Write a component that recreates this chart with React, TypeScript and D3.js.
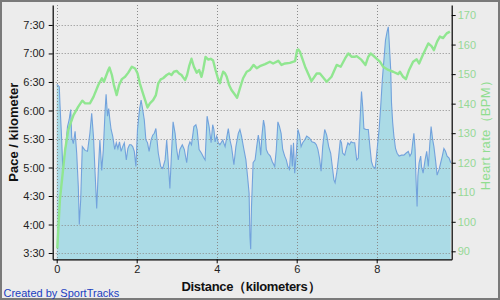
import React, { useEffect, useRef } from "react";
import * as d3 from "d3";

// Distance (km) and pace (seconds per km)
const paceKm = [
  0.0, 0.015, 0.065, 0.08, 0.125, 0.15, 0.18, 0.23, 0.27, 0.31, 0.35, 0.375, 0.415, 0.46, 0.5, 0.54, 0.565, 0.6, 0.64, 0.71,
  0.77, 0.83, 0.875, 0.92, 0.96, 1.0, 1.04, 1.08, 1.125, 1.165, 1.21, 1.235, 1.27, 1.3, 1.33, 1.36, 1.4, 1.45, 1.49, 1.53,
  1.57, 1.61, 1.65, 1.69, 1.74, 1.78, 1.82, 1.86, 1.9, 1.94, 1.98, 2.02, 2.07, 2.11, 2.15, 2.19, 2.23, 2.27, 2.31, 2.36,
  2.4, 2.44, 2.48, 2.54, 2.6, 2.65, 2.71, 2.75, 2.79, 2.83, 2.87, 2.91, 2.96, 3.0, 3.04, 3.08, 3.14, 3.19, 3.25, 3.29,
  3.33, 3.37, 3.43, 3.48, 3.51, 3.56, 3.62, 3.68, 3.71, 3.76, 3.81, 3.86, 3.9, 3.93, 3.96, 4.0, 4.04, 4.08, 4.15, 4.21,
  4.29, 4.33, 4.37, 4.43, 4.48, 4.54, 4.58, 4.62, 4.68, 4.73, 4.77, 4.81, 4.83, 4.85, 4.87, 4.91, 4.96, 5.0, 5.04, 5.07,
  5.1, 5.13, 5.17, 5.2, 5.24, 5.28, 5.34, 5.39, 5.45, 5.49, 5.53, 5.57, 5.61, 5.65, 5.7, 5.74, 5.78, 5.82, 5.86, 5.89,
  5.92, 5.95, 5.99, 6.03, 6.07, 6.11, 6.15, 6.2, 6.25, 6.32, 6.38, 6.45, 6.49, 6.53, 6.57, 6.61, 6.65, 6.7, 6.75, 6.8,
  6.85, 6.89, 6.93, 6.96, 7.0, 7.05, 7.09, 7.12, 7.15, 7.2, 7.24, 7.28, 7.32, 7.36, 7.4, 7.45, 7.5, 7.54, 7.58, 7.62,
  7.65, 7.68, 7.73, 7.79, 7.83, 7.87, 7.91, 7.96, 7.98, 8.01, 8.06, 8.1, 8.14, 8.18, 8.22, 8.26, 8.29, 8.31, 8.35, 8.37,
  8.4, 8.43, 8.47, 8.51, 8.56, 8.62, 8.68, 8.73, 8.79, 8.83, 8.87, 8.9, 8.93, 8.96, 8.98, 9.01, 9.03, 9.06, 9.1, 9.12,
  9.16, 9.21, 9.25, 9.29, 9.33, 9.36, 9.4, 9.43, 9.47, 9.51, 9.56, 9.6, 9.64, 9.68, 9.72, 9.76, 9.81, 9.85,
];
const paceSec = [
  387, 387, 385, 368, 329, 301, 308, 325, 343, 350, 361, 332, 325, 338, 315, 280, 240, 266, 322, 318,
  317, 336, 357, 332, 294, 257, 297, 329, 297, 318, 360, 377, 354, 362, 350, 340, 333, 319, 326, 320,
  327, 317, 322, 326, 308, 320, 324, 324, 322, 317, 301, 340, 361, 371, 361, 350, 329, 326, 317, 329,
  334, 336, 341, 315, 301, 299, 308, 329, 305, 278, 315, 348, 336, 319, 308, 319, 324, 319, 305, 322,
  327, 324, 343, 345, 340, 319, 315, 310, 308, 354, 343, 326, 345, 340, 327, 333, 326, 324, 329, 322,
  341, 329, 322, 303, 322, 336, 340, 333, 319, 308, 291, 273, 228, 214, 259, 305, 308, 322, 334, 326,
  313, 333, 350, 343, 319, 315, 312, 306, 301, 319, 348, 343, 336, 319, 312, 308, 301, 298, 324, 301,
  326, 294, 315, 340, 334, 322, 326, 329, 333, 331, 327, 326, 324, 319, 310, 296, 322, 340, 334, 322,
  315, 301, 287, 284, 294, 312, 329, 326, 315, 313, 320, 326, 324, 327, 326, 326, 308, 310, 347, 380,
  364, 341, 340, 340, 322, 306, 301, 299, 306, 319, 340, 364, 392, 413, 434, 443, 448, 434, 403, 368,
  347, 333, 320, 315, 312, 313, 313, 315, 317, 312, 315, 326, 336, 319, 291, 259, 291, 305, 312, 301,
  294, 308, 317, 301, 326, 343, 329, 322, 308, 292, 298, 305, 312, 320, 317, 312, 310, 305,
];

// Distance (km) and heart rate (BPM)
const hrKm = [
  0.015, 0.08, 0.15, 0.21, 0.29, 0.42, 0.54, 0.64, 0.71, 0.83, 0.92, 1.04, 1.13, 1.18, 1.29, 1.32, 1.38, 1.43, 1.5, 1.56,
  1.63, 1.71, 1.79, 1.88, 1.96, 2.02, 2.08, 2.17, 2.27, 2.33, 2.41, 2.48, 2.54, 2.6, 2.66, 2.75, 2.81, 2.87, 2.93, 3.0,
  3.06, 3.12, 3.16, 3.21, 3.26, 3.31, 3.37, 3.43, 3.5, 3.56, 3.62, 3.66, 3.72, 3.79, 3.85, 3.91, 3.97, 4.02, 4.06, 4.08,
  4.11, 4.16, 4.21, 4.25, 4.31, 4.37, 4.43, 4.51, 4.58, 4.66, 4.75, 4.83, 4.92, 5.0, 5.08, 5.21, 5.33, 5.41, 5.54, 5.62,
  5.71, 5.83, 5.96, 6.01, 6.04, 6.08, 6.21, 6.37, 6.5, 6.58, 6.75, 6.87, 7.0, 7.1, 7.21, 7.29, 7.37, 7.46, 7.5, 7.62,
  7.72, 7.79, 7.85, 7.96, 8.08, 8.16, 8.29, 8.41, 8.54, 8.58, 8.66, 8.73, 8.81, 8.91, 9.0, 9.06, 9.15, 9.29, 9.37, 9.43,
  9.51, 9.58, 9.66, 9.75, 9.83,
];
const hrBpm = [
  91.0, 107.4, 116.5, 124.3, 131.1, 136.1, 139.0, 141.0, 140.1, 140.1, 142.3, 146.3, 148.6, 147.4, 151.4, 152.2, 149.7, 146.3, 142.9, 146.3,
  148.3, 149.1, 150.5, 152.5, 151.9, 150.3, 146.8, 142.9, 138.7, 140.1, 141.2, 142.9, 146.9, 148.2, 148.6, 149.7, 150.2, 149.7, 150.8, 151.1,
  150.2, 149.7, 148.9, 148.0, 149.7, 152.6, 155.2, 152.5, 150.5, 151.4, 149.1, 151.4, 155.8, 154.9, 155.2, 154.6, 151.4, 149.1, 147.4, 146.9,
  148.6, 150.8, 150.2, 149.1, 146.3, 144.6, 143.5, 142.0, 145.2, 148.6, 150.8, 151.4, 153.1, 152.0, 152.7, 153.4, 154.2, 153.6, 154.5, 153.1,
  153.6, 153.8, 154.4, 158.1, 158.3, 157.6, 152.5, 147.6, 150.2, 150.2, 147.4, 149.1, 153.1, 152.5, 155.3, 157.0, 155.9, 155.9, 156.1, 154.8,
  153.1, 155.9, 157.0, 155.7, 154.2, 152.5, 151.4, 150.8, 150.0, 150.8, 149.1, 148.3, 151.4, 154.2, 155.0, 153.6, 156.4, 160.4, 159.5, 158.1,
  161.0, 162.7, 162.2, 163.8, 164.4,
];

const paceTicks = [210, 240, 270, 300, 330, 360, 390, 420, 450];
const hrTicks = [90, 100, 110, 120, 130, 140, 150, 160, 170];
const kmTicks = [0, 2, 4, 6, 8];

const W = 500;
const H = 300;
const L = 52.7;
const R = 451.7;
const T = 5;
const B = 259.3;

const fmtPace = (s: number) => `${Math.floor(s / 60)}:${String(s % 60).padStart(2, "0")}`;

export default function App() {
  const ref = useRef<SVGSVGElement | null>(null);

  useEffect(() => {
    const svg = d3.select(ref.current);
    svg.selectAll("*").remove();

    const x = d3.scaleLinear().domain([-0.1, 9.875]).range([L, R]);
    const yP = d3.scaleLinear().domain([203.4, 471]).range([B, T]);
    const yH = d3.scaleLinear().domain([87.3, 173.4]).range([B, T]);

    const paceData = paceKm.map((k, i) => ({ k, v: paceSec[i] }));
    const hrData = hrKm.map((k, i) => ({ k, v: hrBpm[i] }));

    svg.append("rect").attr("x", 0).attr("y", 0).attr("width", W).attr("height", H).attr("fill", "#ececec");
    svg.append("rect").attr("x", 1).attr("y", 1).attr("width", W - 2).attr("height", H - 2)
      .attr("fill", "none").attr("stroke", "#7a7a7a").attr("stroke-width", 2);

    const area = d3.area<{ k: number; v: number }>()
      .x((d) => x(d.k)).y0(B).y1((d) => yP(d.v));
    svg.append("path").datum(paceData).attr("d", area).attr("fill", "#abdbe6");

    const grid = svg.append("g").attr("stroke", "#8a8a8a").attr("stroke-width", 1).attr("stroke-dasharray", "1,2");
    paceTicks.forEach((t) => {
      grid.append("line").attr("x1", L).attr("x2", R).attr("y1", Math.round(yP(t)) + 0.5).attr("y2", Math.round(yP(t)) + 0.5);
    });
    kmTicks.forEach((t) => {
      grid.append("line").attr("y1", T).attr("y2", B).attr("x1", Math.round(x(t)) + 0.5).attr("x2", Math.round(x(t)) + 0.5);
    });

    const paceLine = d3.line<{ k: number; v: number }>().x((d) => x(d.k)).y((d) => yP(d.v));
    svg.append("path").datum(paceData).attr("d", paceLine).attr("fill", "none")
      .attr("stroke", "#72a2dc").attr("stroke-width", 1.1);

    const hrLine = d3.line<{ k: number; v: number }>().x((d) => x(d.k)).y((d) => yH(d.v));
    svg.append("path").datum(hrData).attr("d", hrLine).attr("fill", "none")
      .attr("stroke", "#90e690").attr("stroke-width", 2.4).attr("stroke-linejoin", "round");

    const font = "'Liberation Sans', Arial, sans-serif";

    const gl = svg.append("g").attr("transform", `translate(${L},0)`)
      .call(d3.axisLeft(yP).tickValues(paceTicks).tickFormat((d) => fmtPace(d as number)).tickSize(4).tickPadding(4).tickSizeOuter(0));
    gl.selectAll("text").attr("font-family", font).attr("font-size", 11).attr("fill", "#222");

    const gr = svg.append("g").attr("transform", `translate(${R},0)`)
      .call(d3.axisRight(yH).tickValues(hrTicks).tickSize(4).tickPadding(2).tickSizeOuter(0));
    gr.selectAll("text").attr("font-family", font).attr("font-size", 11).attr("fill", "#96d896");

    const gb = svg.append("g").attr("transform", `translate(0,${B})`)
      .call(d3.axisBottom(x).tickValues(kmTicks).tickFormat(d3.format("d")).tickSize(4).tickPadding(2).tickSizeOuter(0));
    gb.selectAll("text").attr("font-family", font).attr("font-size", 11).attr("fill", "#222");

    [gl, gr, gb].forEach((g) => {
      g.attr("font-family", font);
      g.selectAll("path.domain").attr("stroke", "#000").attr("stroke-width", 1.2);
      g.selectAll(".tick line").attr("stroke", "#000");
    });

    svg.append("text").attr("transform", `translate(18,${(T + B) / 2}) rotate(-90)`)
      .attr("text-anchor", "middle").attr("font-family", font).attr("font-weight", "bold")
      .attr("font-size", 13).attr("fill", "#111").text("Pace / kilometer");

    svg.append("text").attr("transform", `translate(490,${(T + B) / 2}) rotate(-90)`)
      .attr("text-anchor", "middle").attr("font-family", font)
      .attr("font-size", 13).attr("fill", "#90dd90")
      .attr("textLength", 116).attr("lengthAdjust", "spacing").text("Heart rate（BPM）");

    svg.append("text").attr("x", 251).attr("y", 291)
      .attr("text-anchor", "middle").attr("font-family", font).attr("font-weight", "bold")
      .attr("font-size", 13).attr("fill", "#111")
      .attr("textLength", 139).attr("lengthAdjust", "spacing").text("Distance（kilometers）");

    svg.append("text").attr("x", 3.5).attr("y", 296.5)
      .attr("font-family", font).attr("font-size", 11).attr("fill", "#2040c0").text("Created by SportTracks");
  }, []);

  return (
    <svg ref={ref} width={W} height={H} style={{ position: "absolute", left: 0, top: 0, display: "block" }} />
  );
}
